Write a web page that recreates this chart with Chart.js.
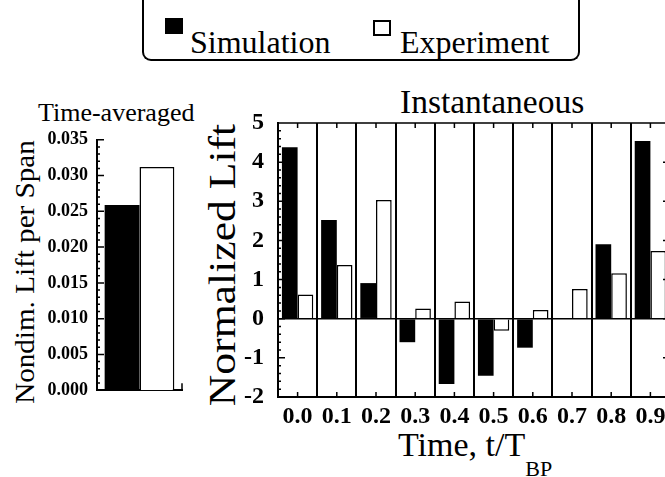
<!DOCTYPE html>
<html>
<head>
<meta charset="utf-8">
<script src="https://cdn.jsdelivr.net/npm/chart.js@4/dist/chart.umd.min.js"></script>
<style>
  html, body { margin: 0; padding: 0; background: #fff; }
  #page { position: relative; width: 665px; height: 477px; overflow: hidden; background: #fff; font-family: "Liberation Serif", serif; color: #000; }
  .txt { position: absolute; white-space: nowrap; line-height: 1; }
  #legend { position: absolute; left: 142px; top: -4px; width: 434px; height: 63px; border: 2px solid #000; border-top: none; border-radius: 0 0 9px 9px; }
  .swatch { position: absolute; width: 18px; height: 16px; box-sizing: border-box; border: 2px solid #000; }
  canvas { position: absolute; }
</style>
</head>
<body>
<div id="page">
  <div id="legend"></div>
  <div class="swatch" style="left:165px; top:18px; background:#000;"></div>
  <div class="txt" style="left:190px; top:26px; font-size:32px;">Simulation</div>
  <div class="swatch" style="left:373px; top:20px; background:#fff;"></div>
  <div class="txt" style="left:400px; top:26px; font-size:32px;">Experiment</div>

  <div class="txt" style="left:38px; top:100px; font-size:26px;">Time-averaged</div>
  <div class="txt" style="left:25px; top:272px; font-size:28px; transform: translate(-50%, -50%) rotate(-90deg) scaleX(1.04);">Nondim. Lift per Span</div>

  <div class="txt" style="left:400px; top:85px; font-size:33.5px;">Instantaneous</div>
  <div class="txt" style="left:222px; top:265px; font-size:37px; transform: translate(-50%, -50%) rotate(-90deg) scaleX(1.18);">Normalized Lift</div>
  <div class="txt" style="left:398px; top:428px; font-size:34px;">Time, t/T<span style="font-size:22px; position:relative; top:20px;">BP</span></div>

  <canvas id="avgChart" width="200" height="290" style="left:0; top:120px;"></canvas>
  <canvas id="instChart" width="520" height="387" style="left:200px; top:90px;"></canvas>
</div>
<script>
// 時間平均
const avgLabels = [""];
const avgSimulation = [0.0259];
const avgExperiment = [0.0312];
const avgTicks = { min: 0, max: 0.035, step: 0.005 };

// 瞬時値
const timeLabels = ["0.0", "0.1", "0.2", "0.3", "0.4", "0.5", "0.6", "0.7", "0.8", "0.9"];
const simulation = [4.38, 2.52, 0.91, -0.6, -1.67, -1.46, -0.74, 0, 1.9, 4.54];
const experiment = [0.62, 1.37, 3.03, 0.26, 0.44, -0.31, 0.22, 0.76, 1.16, 1.73];
const liftTicks = { min: -2, max: 5, step: 1 };

// 内向きの目盛りと枠線
const frameTicks = {
  id: "frameTicks",
  afterDraw(chart, args, opts) {
    const { ctx, chartArea: a, scales } = chart;
    const y = scales.y;
    const x = scales.x;
    ctx.save();
    ctx.strokeStyle = "#000";
    ctx.lineWidth = 1.5;
    ctx.beginPath();
    if (opts.box) {
      ctx.rect(a.left, a.top, a.right - a.left, a.bottom - a.top);
    }
    const n = Math.round((y.max - y.min) / opts.minor);
    for (let i = 0; i <= n; i++) {
      const v = y.min + i * opts.minor;
      const py = y.getPixelForValue(v);
      const r = v / opts.major;
      const major = Math.abs(r - Math.round(r)) < 1e-6;
      const len = major ? 7 : 3;
      ctx.moveTo(a.left, py);
      ctx.lineTo(a.left + len, py);
      if (opts.box && major) {
        ctx.moveTo(a.right, py);
        ctx.lineTo(a.right - len, py);
      }
    }
    if (opts.box) {
      x.ticks.forEach((t, i) => {
        const px = x.getPixelForTick(i);
        ctx.moveTo(px, a.bottom);
        ctx.lineTo(px, a.bottom - 5);
        ctx.moveTo(px, a.top);
        ctx.lineTo(px, a.top + 5);
      });
    } else {
      // 左上と右下の小さなかぎ
      ctx.moveTo(a.left, a.top);
      ctx.lineTo(a.left + 5, a.top);
      ctx.moveTo(a.right, a.bottom);
      ctx.lineTo(a.right, a.bottom - 7);
    }
    ctx.stroke();
    ctx.restore();
  },
};

const tickFont = { family: "Liberation Serif", weight: "bold" };

new Chart(document.getElementById("avgChart"), {
  type: "bar",
  data: {
    labels: avgLabels,
    datasets: [
      { label: "Simulation", data: avgSimulation, backgroundColor: "#000", borderWidth: 0 },
      { label: "Experiment", data: avgExperiment, backgroundColor: "#fff", borderColor: "#000", borderWidth: 1.5 },
    ],
  },
  options: {
    responsive: false,
    animation: false,
    devicePixelRatio: 1,
    layout: { padding: { top: 15, right: 18, bottom: 0, left: 0 } },
    plugins: { legend: { display: false }, tooltip: { enabled: false }, frameTicks: { box: false, major: 0.005, minor: 0.001 } },
    datasets: { bar: { categoryPercentage: 0.82, barPercentage: 1 } },
    scales: {
      x: {
        grid: { display: false },
        border: { display: true, color: "#000", width: 2 },
        ticks: { display: false },
        afterFit: (s) => { s.height = 8; },
      },
      y: {
        min: avgTicks.min,
        max: avgTicks.max,
        grid: { display: false, drawTicks: false },
        border: { display: true, color: "#000", width: 2 },
        ticks: {
          stepSize: avgTicks.step,
          padding: 9,
          color: "#000",
          font: { ...tickFont, size: 18 },
          callback: (v) => v.toFixed(3),
        },
        afterFit: (s) => { s.width = 97; },
      },
    },
  },
  plugins: [frameTicks],
});

new Chart(document.getElementById("instChart"), {
  type: "bar",
  data: {
    labels: timeLabels,
    datasets: [
      { label: "Simulation", data: simulation, backgroundColor: "#000", borderWidth: 0 },
      { label: "Experiment", data: experiment, backgroundColor: "#fff", borderColor: "#000", borderWidth: 1.5 },
    ],
  },
  options: {
    responsive: false,
    animation: false,
    devicePixelRatio: 1,
    layout: { padding: { top: 33, right: 50, bottom: 0, left: 0 } },
    plugins: { legend: { display: false }, tooltip: { enabled: false }, frameTicks: { box: true, major: 1, minor: 0.2 } },
    datasets: { bar: { categoryPercentage: 0.8, barPercentage: 1 } },
    scales: {
      x: {
        offset: true,
        grid: { offset: true, color: "#000", lineWidth: 2, drawTicks: false },
        border: { display: true, color: "#000", width: 2 },
        ticks: {
          autoSkip: false,
          maxRotation: 0,
          padding: 5,
          color: "#000",
          font: { ...tickFont, size: 24 },
        },
        afterFit: (s) => { s.height = 80; },
      },
      y: {
        min: liftTicks.min,
        max: liftTicks.max,
        grid: {
          drawTicks: false,
          lineWidth: 1.5,
          color: (c) => (c.tick && c.tick.value === 0 ? "#000" : "rgba(0,0,0,0)"),
        },
        border: { display: true, color: "#000", width: 2 },
        ticks: {
          stepSize: liftTicks.step,
          padding: 14,
          color: "#000",
          font: { ...tickFont, size: 24 },
        },
        afterFit: (s) => { s.width = 78; },
      },
    },
  },
  plugins: [frameTicks],
});
</script>
</body>
</html>
